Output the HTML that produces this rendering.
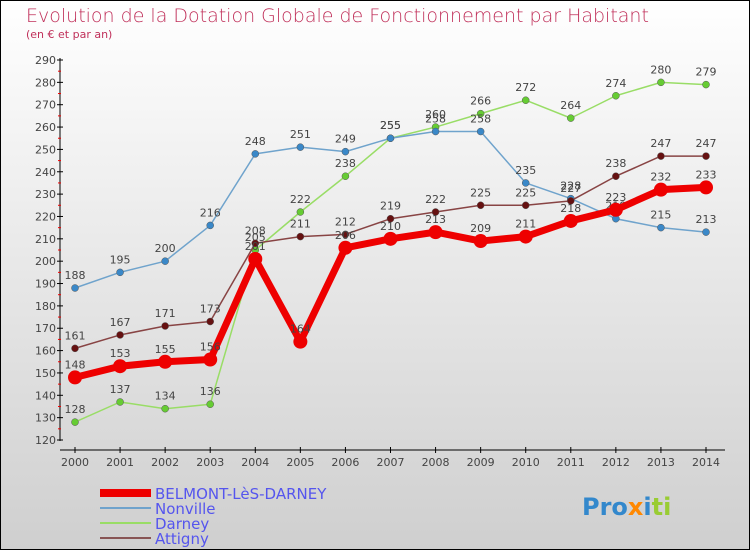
<!DOCTYPE html>
<html><head><meta charset="utf-8"><style>
body{margin:0;width:750px;height:550px;overflow:hidden;font-family:"DejaVu Sans","Liberation Sans",sans-serif}
svg text{font-family:"DejaVu Sans","Liberation Sans",sans-serif}
</style></head><body>
<svg width="750" height="550">
<defs><linearGradient id="bg" x1="0" y1="0" x2="0" y2="1"><stop offset="0" stop-color="#ffffff"/><stop offset="1" stop-color="#cfcfcf"/></linearGradient></defs>
<rect x="0.5" y="0.5" width="749" height="549" fill="url(#bg)" stroke="#000"/>
<text x="26" y="22" font-size="19" fill="#c0305a" style="font-weight:200">Evolution de la Dotation Globale de Fonctionnement par Habitant</text>
<text x="26" y="38" font-size="11" fill="#c0305a">(en € et par an)</text>
<g id="axes"></g><g id="series"></g>
<g>
<rect x="100" y="489" width="51" height="8" fill="#ee0000"/>
<text x="155" y="499" font-size="15" fill="#5555ee">BELMONT-LèS-DARNEY</text>
<line x1="100" y1="508" x2="151" y2="508" stroke="#6fa3cc" stroke-width="2"/>
<text x="155" y="514" font-size="15" fill="#5555ee">Nonville</text>
<line x1="100" y1="523" x2="151" y2="523" stroke="#99dd66" stroke-width="2"/>
<text x="155" y="529" font-size="15" fill="#5555ee">Darney</text>
<line x1="100" y1="538" x2="151" y2="538" stroke="#885555" stroke-width="2"/>
<text x="155" y="544" font-size="15" fill="#5555ee">Attigny</text>
</g>
<text x="582" y="515" font-size="24" font-weight="bold"><tspan fill="#3388cc">Pro</tspan><tspan fill="#ff8800">x</tspan><tspan fill="#3388cc">i</tspan><tspan fill="#99cc33">ti</tspan></text>
</svg>
<script>
const years=[2000,2001,2002,2003,2004,2005,2006,2007,2008,2009,2010,2011,2012,2013,2014];
const yTicks=[120,130,140,150,160,170,180,190,200,210,220,230,240,250,260,270,280,290];
const belmont=[148,153,155,156,201,164,206,210,213,209,211,218,223,232,233];
const nonville=[188,195,200,216,248,251,249,255,258,258,235,228,219,215,213];
const darney=[128,137,134,136,205,222,238,255,260,266,272,264,274,280,279];
const attigny=[161,167,171,173,208,211,212,219,222,225,225,227,238,247,247];
const NS="http://www.w3.org/2000/svg";
const X=i=>75+i*(631/14);
const Y=v=>440-(v-120)*(380/170);
function mk(t,a,p){const e=document.createElementNS(NS,t);for(const k in a)e.setAttribute(k,a[k]);p.appendChild(e);return e;}
const ax=document.getElementById('axes');
const yl=mk('line',{x1:60,y1:58,x2:60,y2:441,stroke:'#000'},ax);


const xl=mk('line',{x1:60,y1:450,x2:725,y2:450,stroke:'#000'},ax);


yTicks.forEach((v,i)=>{
 mk('line',{x1:57,y1:Y(v),x2:63,y2:Y(v),stroke:'#000'},ax);
 if(i<yTicks.length-1) mk('line',{x1:58,y1:Y(v+5),x2:61,y2:Y(v+5),stroke:'#e00'},ax);
 const t=mk('text',{x:56,y:Y(v)+4,'font-size':11,fill:'#444','text-anchor':'end'},ax);t.textContent=v;
 
 
});
years.forEach((y,i)=>{
 mk('line',{x1:X(i),y1:447,x2:X(i),y2:453,stroke:'#000'},ax);
 const t=mk('text',{x:X(i),y:466,'font-size':11,fill:'#444','text-anchor':'middle'},ax);t.textContent=y;
 
 
});
const sg=document.getElementById('series');
function series(name,data,line,pt,w,r){
 const g=mk('g',{},sg);
 
 
 const pl=mk('polyline',{points:data.map((v,i)=>X(i)+','+Y(v)).join(' '),fill:'none',stroke:line,'stroke-width':w,'stroke-linejoin':'round'},g);
 
 
 data.forEach((v,i)=>{
  const c=mk('circle',{cx:X(i),cy:Y(v),r:r,fill:pt,stroke:line==pt?'none':'#555','stroke-width':0.5},g);
  
  
  const t=mk('text',{x:X(i),y:Y(v)-9,'font-size':11,fill:'#444','text-anchor':'middle'},g);t.textContent=v;
  
  
 });
}
series('darney',darney,'#99dd66','#66cc33',1.5,3.5);
series('nonville',nonville,'#6fa3cc','#3a88c8',1.5,3.5);
series('attigny',attigny,'#884444','#661111',1.5,3.5);
series('belmont',belmont,'#ee0000','#ee0000',7,7);
</script>
</body></html>
